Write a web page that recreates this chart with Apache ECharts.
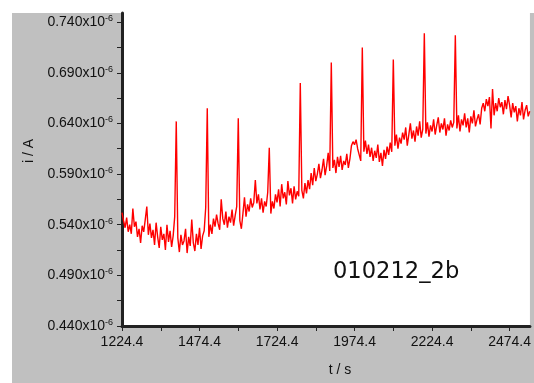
<!DOCTYPE html>
<html>
<head>
<meta charset="utf-8">
<title>010212_2b</title>
<script src="https://cdn.jsdelivr.net/npm/echarts@6/dist/echarts.min.js"></script>
<style>
  html, body { margin: 0; padding: 0; background: #fff; }
  #chart { width: 534px; height: 383px; }
</style>
</head>
<body>
<div id="chart"></div>
<script>
// Current trace sampled every 5 s starting at t = 1224.4 s (values in units of 1e-6 A)
const startTime = 1224.4;
const sampleStep = 5;
const currentMicroA = [
  // 1224 - 1319 s
  0.552, 0.544, 0.537, 0.547, 0.533, 0.540, 0.531, 0.556, 0.538, 0.543,
  0.528, 0.536, 0.522, 0.539, 0.533, 0.545, 0.558, 0.530, 0.541, 0.527,
  // 1324 - 1419 s
  0.535, 0.520, 0.542, 0.528, 0.517, 0.538, 0.525, 0.531, 0.515, 0.540,
  0.523, 0.534, 0.518, 0.529, 0.548, 0.642, 0.527, 0.513, 0.530, 0.520,
  // 1424 - 1519 s
  0.524, 0.536, 0.512, 0.528, 0.519, 0.545, 0.522, 0.514, 0.531, 0.520,
  0.537, 0.516, 0.529, 0.534, 0.557, 0.655, 0.528, 0.540, 0.531, 0.546,
  // 1524 - 1619 s
  0.538, 0.550, 0.541, 0.535, 0.565, 0.546, 0.540, 0.553, 0.537, 0.548,
  0.542, 0.555, 0.539, 0.549, 0.558, 0.645, 0.544, 0.536, 0.551, 0.567,
  // 1624 - 1719 s
  0.548, 0.560, 0.553, 0.566, 0.557, 0.562, 0.584, 0.561, 0.570, 0.555,
  0.566, 0.552, 0.563, 0.558, 0.572, 0.616, 0.551, 0.563, 0.556, 0.570,
  // 1724 - 1819 s
  0.562, 0.575, 0.558, 0.580, 0.566, 0.572, 0.560, 0.583, 0.569, 0.576,
  0.561, 0.578, 0.565, 0.573, 0.568, 0.680, 0.574, 0.566, 0.581, 0.571,
  // 1824 - 1919 s
  0.584, 0.575, 0.591, 0.579, 0.596, 0.583, 0.590, 0.600, 0.586, 0.594,
  0.605, 0.589, 0.598, 0.611, 0.593, 0.700, 0.596, 0.604, 0.591, 0.607,
  // 1924 - 2019 s
  0.597, 0.608, 0.594, 0.603, 0.599, 0.610, 0.596, 0.605, 0.618, 0.622,
  0.619, 0.624, 0.615, 0.609, 0.603, 0.715, 0.612, 0.623, 0.610, 0.619,
  // 2024 - 2119 s
  0.607, 0.616, 0.603, 0.613, 0.606, 0.619, 0.602, 0.611, 0.598, 0.614,
  0.605, 0.617, 0.609, 0.621, 0.612, 0.703, 0.618, 0.629, 0.615, 0.626,
  // 2124 - 2219 s
  0.620, 0.631, 0.624, 0.636, 0.618, 0.629, 0.640, 0.625, 0.633, 0.622,
  0.637, 0.628, 0.642, 0.626, 0.634, 0.729, 0.630, 0.641, 0.627, 0.638,
  // 2224 - 2319 s
  0.632, 0.644, 0.629, 0.638, 0.646, 0.631, 0.640, 0.634, 0.645, 0.628,
  0.639, 0.633, 0.643, 0.636, 0.641, 0.727, 0.635, 0.648, 0.632, 0.644,
  // 2324 - 2419 s
  0.638, 0.650, 0.636, 0.645, 0.631, 0.647, 0.640, 0.653, 0.637, 0.644,
  0.649, 0.639, 0.655, 0.660, 0.652, 0.664, 0.657, 0.666, 0.635, 0.674,
  // 2424 - 2539 s
  0.648, 0.660, 0.652, 0.665, 0.656, 0.661, 0.649, 0.663, 0.654, 0.667,
  0.658, 0.646, 0.660, 0.651, 0.657, 0.642, 0.655, 0.648, 0.661, 0.644,
  0.653, 0.658, 0.647, 0.652
];

// Axis tick positions
const timeLabels = [1224.4, 1474.4, 1724.4, 1974.4, 2224.4, 2474.4];
const timeMinorTicks = [1349.4, 1599.4, 1849.4, 2099.4, 2349.4];
const currentLabels = [0.44, 0.49, 0.54, 0.59, 0.64, 0.69, 0.74];
const currentMinorTicks = [0.465, 0.515, 0.565, 0.615, 0.665, 0.715];

const seriesData = currentMicroA.map((v, i) => [startTime + i * sampleStep, v]);

const axisColor = '#222';
const labelFont = '"Liberation Sans", Arial, sans-serif';

const chart = echarts.init(document.getElementById('chart'), null, { renderer: 'canvas' });
chart.setOption({
  animation: false,
  backgroundColor: '#fff',
  graphic: [
    {
      type: 'rect',
      z: -100,
      silent: true,
      shape: { x: 12, y: 13, width: 522, height: 370 },
      style: { fill: '#c0c0c0' }
    },
    {
      type: 'text',
      z: 10,
      left: 333,
      top: 261,
      style: {
        text: '010212_2b',
        fontFamily: '"DejaVu Sans", Verdana, sans-serif',
        fontSize: 22.6,
        fill: '#111'
      }
    }
  ],
  grid: {
    left: 122, top: 13, right: 0, bottom: 57,
    show: true, backgroundColor: '#fff', borderWidth: 0
  },
  xAxis: {
    type: 'value',
    min: 1224.4,
    max: 2540,
    name: 't / s',
    nameLocation: 'middle',
    nameGap: 37,
    nameTextStyle: { fontFamily: labelFont, fontSize: 14, color: '#111', padding: [0, 0, 0, 28] },
    axisLine: { show: true, onZero: false, lineStyle: { color: axisColor, width: 3 } },
    axisTick: {
      show: true, inside: false, length: 5,
      customValues: timeLabels.concat(timeMinorTicks),
      lineStyle: { color: axisColor, width: 1 }
    },
    axisLabel: {
      customValues: timeLabels,
      margin: 9,
      fontFamily: labelFont, fontSize: 14, color: '#111',
      formatter: v => v.toFixed(1)
    },
    splitLine: { show: false }
  },
  yAxis: {
    type: 'value',
    min: 0.44,
    max: 0.749,
    name: 'i / A',
    nameLocation: 'middle',
    nameRotate: 90,
    nameGap: 86,
    nameTextStyle: { fontFamily: labelFont, fontSize: 14, color: '#111', padding: [0, 0, 0, 37] },
    axisLine: { show: true, onZero: false, lineStyle: { color: axisColor, width: 3 } },
    axisTick: {
      show: true, inside: false, length: 5,
      customValues: currentLabels.concat(currentMinorTicks),
      lineStyle: { color: axisColor, width: 1 }
    },
    axisLabel: {
      customValues: currentLabels,
      margin: 9,
      fontFamily: labelFont, fontSize: 14, color: '#111',
      formatter: v => v.toFixed(3) + 'x10{sup|-6}',
      rich: {
        sup: { fontFamily: labelFont, fontSize: 9, color: '#111', padding: [0, 0, 7, 0] }
      }
    },
    splitLine: { show: false }
  },
  series: [
    {
      type: 'line',
      data: seriesData,
      showSymbol: false,
      clip: true,
      lineStyle: { color: '#ff0000', width: 1.4 },
      itemStyle: { color: '#ff0000' }
    }
  ]
});
</script>
</body>
</html>
